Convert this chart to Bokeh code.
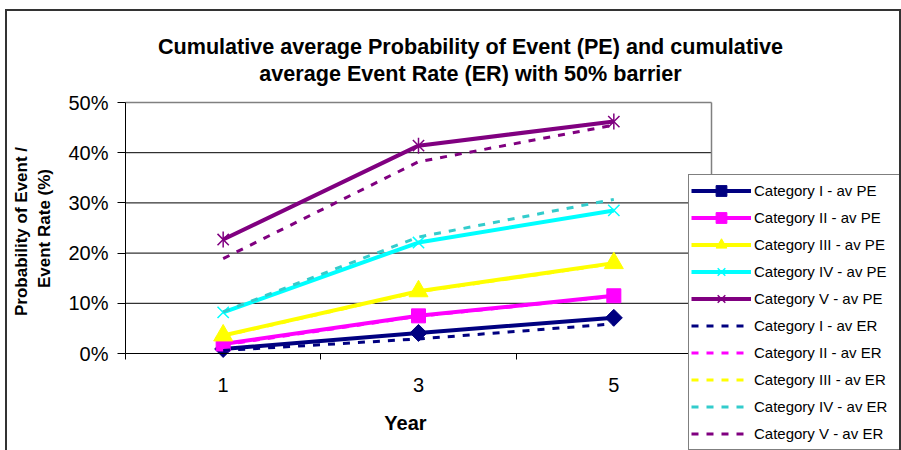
import math
from bokeh.plotting import figure
from bokeh.layouts import column
from bokeh.models import (Label, Legend, LegendItem, FixedTicker,
                          NumeralTickFormatter, Range1d, ColumnDataSource)
from bokeh.embed import file_html
from bokeh.resources import INLINE

# --- data -----------------------------------------------------------------
years = ["1", "3", "5"]

pe_cat1 = [0.009, 0.041, 0.071]
pe_cat2 = [0.019, 0.075, 0.115]
pe_cat3 = [0.036, 0.124, 0.180]
pe_cat4 = [0.082, 0.221, 0.285]
pe_cat5 = [0.227, 0.414, 0.462]

er_cat1 = [0.006, 0.029, 0.059]
er_cat2 = [0.017, 0.074, 0.114]
er_cat3 = [0.035, 0.123, 0.179]
er_cat4 = [0.083, 0.232, 0.307]
er_cat5 = [0.189, 0.382, 0.455]

pe_labels = ["Category I - av PE", "Category II - av PE", "Category III - av PE",
             "Category IV - av PE", "Category V - av PE"]
er_labels = ["Category I - av ER", "Category II - av ER", "Category III - av ER",
             "Category IV - av ER", "Category V - av ER"]

title_lines = ["Cumulative average Probability of Event (PE) and cumulative",
               "average Event Rate (ER) with 50% barrier"]
y_title_lines = ["Probability of Event /", "Event Rate (%)"]
x_title = "Year"
y_ticks = [0, 0.1, 0.2, 0.3, 0.4, 0.5]
y_max = 0.5

# --- layout (canvas pixels) -------------------------------------------------
FONT = "Liberation Sans"
pe_colors = ["#000080", "#FF00FF", "#FFFF00", "#00FFFF", "#800080"]
er_colors = ["#000080", "#FF00FF", "#FFFF00", "#33CCCC", "#800080"]

# the canvas sits inside a bordered box starting near (5, 9) on the page
W, H = 892, 439
PL, PR, PT, PB = 118, 704, 91, 342     # plot area edges on the canvas
n = len(years)

# the frame covers the whole canvas; ranges are set so that the plot area
# (0..n, 0..y_max) lands on PL..PR / PB..PT
sx = n / (PR - PL)
sy = y_max / (PB - PT)
x_range = Range1d(-PL * sx, n + (W - PR) * sx)
y_range = Range1d(-(H - PB) * sy, y_max + PT * sy)

p = figure(width=W, height=H, output_backend="svg", toolbar_location=None,
           x_range=x_range, y_range=y_range, min_border=0,
           background_fill_color="white", border_fill_color="white")
p.outline_line_color = None
p.xgrid.visible = False
p.ygrid.visible = False

# gridlines across the plot area, then its grey top and right border
inner = y_ticks[1:-1]
p.segment(x0=[0] * len(inner), x1=[n] * len(inner), y0=inner, y1=inner,
          line_color="black", line_width=1)
p.segment(x0=[0, n], x1=[n, n], y0=[y_max, 0], y1=[y_max, y_max],
          line_color="#808080", line_width=1.5)

# axes, pinned at the plot-area edges
xs = [i + 0.5 for i in range(n)]
p.xaxis.fixed_location = 0
p.xaxis.bounds = (0, n)
p.xaxis.ticker = FixedTicker(ticks=xs, minor_ticks=list(range(n + 1)))
p.xaxis.major_label_overrides = {x: y for x, y in zip(xs, years)}
p.xaxis.major_tick_out = 0
p.xaxis.major_tick_in = 0
p.xaxis.minor_tick_out = 6
p.xaxis.minor_tick_in = 0
p.xaxis.minor_tick_line_color = "black"
p.xaxis.axis_line_color = "black"
p.xaxis.major_label_standoff = 18
p.xaxis.major_label_text_font = FONT
p.xaxis.major_label_text_font_size = "20px"
p.xaxis.major_label_text_color = "black"

p.yaxis.fixed_location = 0
p.yaxis.bounds = (0, y_max)
p.yaxis.ticker = FixedTicker(ticks=y_ticks)
p.yaxis.formatter = NumeralTickFormatter(format="0%")
p.yaxis.major_tick_out = 8
p.yaxis.major_tick_in = 0
p.yaxis.minor_tick_out = 0
p.yaxis.major_tick_line_color = "black"
p.yaxis.axis_line_color = "black"
p.yaxis.major_label_standoff = 9
p.yaxis.major_label_text_font = FONT
p.yaxis.major_label_text_font_size = "20px"
p.yaxis.major_label_text_color = "black"

# --- series -----------------------------------------------------------------
pe_series = [pe_cat1, pe_cat2, pe_cat3, pe_cat4, pe_cat5]
er_series = [er_cat1, er_cat2, er_cat3, er_cat4, er_cat5]

items = []
for i, vals in enumerate(pe_series):
    src = ColumnDataSource(dict(x=xs, y=vals))
    c = pe_colors[i]
    line = p.line("x", "y", source=src, line_color=c, line_width=4)
    rends = [line]
    if i == 0:
        rends.append(p.scatter("x", "y", source=src, marker="square", angle=math.pi / 4,
                               size=12, fill_color=c, line_color=c))
    elif i == 1:
        rends.append(p.scatter("x", "y", source=src, marker="square", size=14,
                               fill_color=c, line_color=c))
    elif i == 2:
        rends.append(p.scatter("x", "y", source=src, marker="triangle", size=19,
                               fill_color=c, line_color=c))
    elif i == 3:
        rends.append(p.scatter("x", "y", source=src, marker="x", size=16,
                               line_color=c, line_width=1.5))
    else:
        rends.append(p.scatter("x", "y", source=src, marker="x", size=16,
                               line_color=c, line_width=1.5))
        rends.append(p.scatter("x", "y", source=src, marker="dash", angle=math.pi / 2,
                               size=16, line_color=c, line_width=1.5))
    items.append(LegendItem(label=pe_labels[i], renderers=rends))

for i, vals in enumerate(er_series):
    src = ColumnDataSource(dict(x=xs, y=vals))
    line = p.line("x", "y", source=src, line_color=er_colors[i], line_width=3,
                  line_dash="7 8")
    items.append(LegendItem(label=er_labels[i], renderers=[line]))

legend = Legend(items=items, location=(681, 0),
                orientation="vertical", padding=2, spacing=0, margin=0,
                label_height=27, label_width=144, glyph_height=27, glyph_width=60,
                label_standoff=3, label_text_font=FONT,
                label_text_font_size="15px", label_text_color="black",
                border_line_color="black", border_line_width=1,
                background_fill_color="white", background_fill_alpha=1)
p.add_layout(legend, "center")

# --- texts (screen units: x from left, y from bottom of the canvas) ---------
for txt, base_y in zip(title_lines, [35, 62]):
    p.add_layout(Label(x=463, y=H - base_y, x_units="screen", y_units="screen",
                       text=txt, text_align="center", text_baseline="alphabetic",
                       text_font=FONT, text_font_style="bold",
                       text_font_size="21.6px", text_color="black"))

for txt, cx, cy in zip(y_title_lines, [14, 37], [220, 217]):
    p.add_layout(Label(x=cx, y=H - cy, x_units="screen", y_units="screen",
                       text=txt, angle=math.pi / 2, text_align="center",
                       text_baseline="middle", text_font=FONT,
                       text_font_style="bold", text_font_size="17px",
                       text_color="black"))

p.add_layout(Label(x=398, y=H - 411, x_units="screen", y_units="screen",
                   text=x_title, text_align="center", text_baseline="middle",
                   text_font=FONT, text_font_style="bold", text_font_size="20px",
                   text_color="black"))

root = column(p, styles={"border": "2px solid #333333", "margin-left": "5px",
                         "margin-top": "9px"})

open("out.html", "w").write(file_html(root, INLINE))
